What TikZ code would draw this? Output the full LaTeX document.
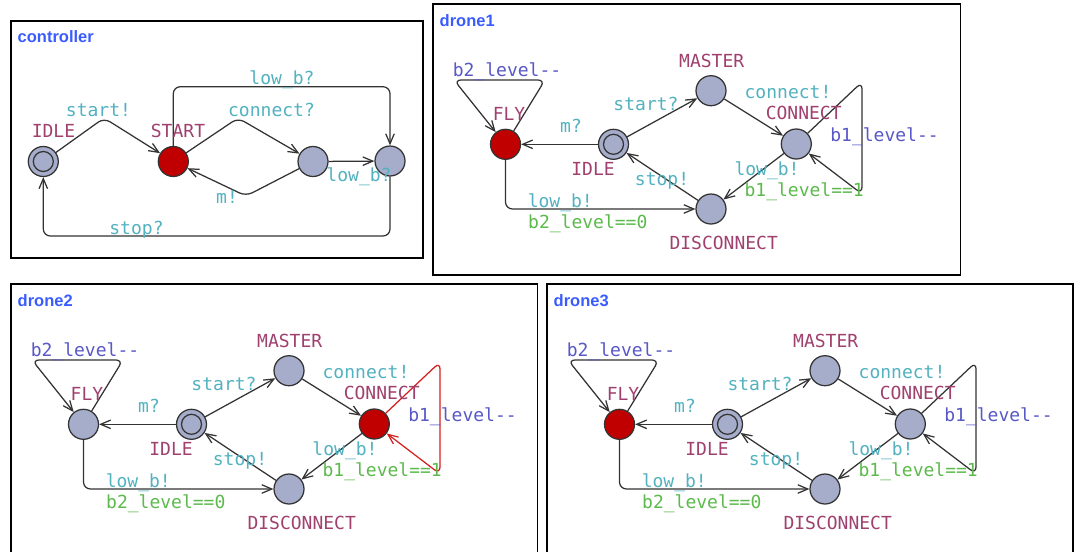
\documentclass[tikz,border=0pt]{standalone}
\usepackage{fontspec}
\setmonofont{DejaVu Sans Mono}
\setsansfont{Liberation Sans}
\usetikzlibrary{arrows.meta}

\definecolor{locfill}{HTML}{A5ADCB}
\definecolor{locred}{HTML}{C00000}
\definecolor{namecol}{HTML}{A0406E}
\definecolor{synccol}{HTML}{52B2C0}
\definecolor{updcol}{HTML}{5858C6}
\definecolor{guardcol}{HTML}{5CBA4C}
\definecolor{titlecol}{HTML}{3A5CFF}
\definecolor{edgecol}{HTML}{333333}
\definecolor{hotedge}{HTML}{D42020}

\tikzset{
  loc/.style={circle, draw=edgecol, fill=locfill, minimum size=30pt, inner sep=0pt, line width=1.25pt},
  redloc/.style={loc, fill=locred},
  initloc/.style={loc, path picture={\draw[edgecol, line width=1.25pt] (path picture bounding box.center) circle (10pt);}},
  trans/.style={draw=edgecol, line width=1.25pt, rounded corners=7pt, -{Straight Barb[length=10pt,width=8.5pt]}},
  hottrans/.style={trans, draw=hotedge},
  lbl/.style={font=\ttfamily\fontsize{18}{20}\selectfont, inner sep=0pt, anchor=base},
  locname/.style={lbl, text=namecol},
  sync/.style={lbl, text=synccol},
  upd/.style={lbl, text=updcol},
  guard/.style={lbl, text=guardcol},
  paneltitle/.style={font=\sffamily\bfseries\fontsize{16.5}{18}\selectfont, text=titlecol, inner sep=0pt, anchor=base west},
  frame/.style={draw=black, line width=1.2pt}
}

% One drone template: #1 name prefix, #2 origin, #3 title,
% #4 FLY style, #5 CONNECT style, #6 style of the CONNECT self-loop
\newcommand\dronepanel[6]{%
\begin{scope}[shift={#2}]
  \node[paneltitle] (#1title) at (6.5,22) {#3};
  \node[#4] (#1fly) at (72.5,140.3) {};
  \node[initloc] (#1idle) at (180.5,140.3) {};
  \node[loc] (#1master) at (278,86.7) {};
  \node[#5] (#1conn) at (363.3,140) {};
  \node[loc] (#1disc) at (278,205) {};
  \coordinate (#1flyl) at (21,76);
  \coordinate (#1flyr) at (112,76);
  \coordinate (#1looptop) at (429,78);
  \coordinate (#1loopbot) at (429,190);
  \coordinate (#1flydown) at (72.5,205);
  % transitions
  \draw[trans] (#1fly) -- (#1flyr) -- (#1flyl) -- (#1fly);
  \draw[trans] (#1idle) -- (#1fly);
  \draw[trans] (#1idle) -- (#1master);
  \draw[trans] (#1master) -- (#1conn);
  \draw[trans] (#1conn) -- (#1disc);
  \draw[trans] (#1disc) -- (#1idle);
  \draw[trans] (#1fly.south) -- (#1flydown) -- (#1disc.west);
  \draw[#6] (#1conn) -- (#1looptop) -- (#1loopbot) -- (#1conn);
  % labels
  \node[upd] (#1lb2dec) at (74,72.7) {b2\_level--};
  \node[locname] (#1nfly) at (76,116) {FLY};
  \node[sync] (#1lm) at (138,128) {m?};
  \node[locname] (#1nidle) at (160,171) {IDLE};
  \node[sync] (#1lstart) at (213,106) {start?};
  \node[sync] (#1lstop) at (229,181.3) {stop!};
  \node[sync] (#1llow) at (127.3,203) {low\_b!};
  \node[guard] (#1lb2eq) at (154.8,224.3) {b2\_level==0};
  \node[locname] (#1nmaster) at (278.7,63.7) {MASTER};
  \node[locname] (#1ndisc) at (290.7,245.3) {DISCONNECT};
  \node[sync] (#1lconn) at (355,94.3) {connect!};
  \node[locname] (#1nconn) at (370.7,115.3) {CONNECT};
  \node[upd] (#1lb1dec) at (451.5,137) {b1\_level--};
  \node[sync] (#1llowr) at (334,171) {low\_b!};
  \node[guard] (#1lb1eq) at (371.2,192.7) {b1\_level==1};
\end{scope}}

\begin{document}
\begin{tikzpicture}[x=1pt, y=-1pt]
  \fill[white] (0,0) rectangle (1078,552);
  \useasboundingbox (0,0) rectangle (1078,552);

  % panel frames
  \draw[frame] (11,21) rectangle (423,258);
  \draw[frame] (433,4) rectangle (960.5,275);
  \draw[frame] (11,552) -- (11,284) -- (537.5,284) -- (537.5,552);
  \draw[frame] (547,552) -- (547,284) -- (1073,284) -- (1073,552);

  % controller
  \node[paneltitle] (ctitle) at (17.5,42.5) {controller};
  \node[initloc] (cidle) at (43.3,161.5) {};
  \node[redloc] (cstart) at (173.3,161.5) {};
  \node[loc] (cmid) at (313,161.5) {};
  \node[loc] (clow) at (390,161) {};
  \coordinate (cpk1) at (104,118);
  \coordinate (cpk2) at (238,118);
  \coordinate (cdip) at (246,196);
  \coordinate (ctopl) at (173.3,86.7);
  \coordinate (ctopr) at (390,86.7);
  \coordinate (cbotr) at (390,236);
  \coordinate (cbotl) at (43.3,236);
  \draw[trans] (cidle) -- (cpk1) -- (cstart);
  \draw[trans] (cstart) -- (cpk2) -- (cmid);
  \draw[trans] (cmid) -- (cdip) -- (cstart);
  \draw[trans] (cmid) -- (clow);
  \draw[trans] (cstart.north) -- (ctopl) -- (ctopr) -- (clow.north);
  \draw[trans] (clow.south) -- (cbotr) -- (cbotl) -- (cidle.south);
  \node[locname] (cnidle) at (53.5,137) {IDLE};
  \node[locname] (cnstart) at (178,137) {START};
  \node[sync] (clstart) at (98.5,116) {start!};
  \node[sync] (clconn) at (271.5,116) {connect?};
  \node[sync] (cllowt) at (282,84) {low\_b?};
  \node[sync] (cllowr) at (359,181) {low\_b?};
  \node[sync] (clm) at (227,203) {m!};
  \node[sync] (clstop) at (136.5,234) {stop?};

  % drones
  \dronepanel{da}{(433,4)}{drone1}{redloc}{loc}{trans}
  \dronepanel{db}{(11,284)}{drone2}{loc}{redloc}{hottrans}
  \dronepanel{dc}{(547,284)}{drone3}{redloc}{loc}{trans}
\end{tikzpicture}
\end{document}
